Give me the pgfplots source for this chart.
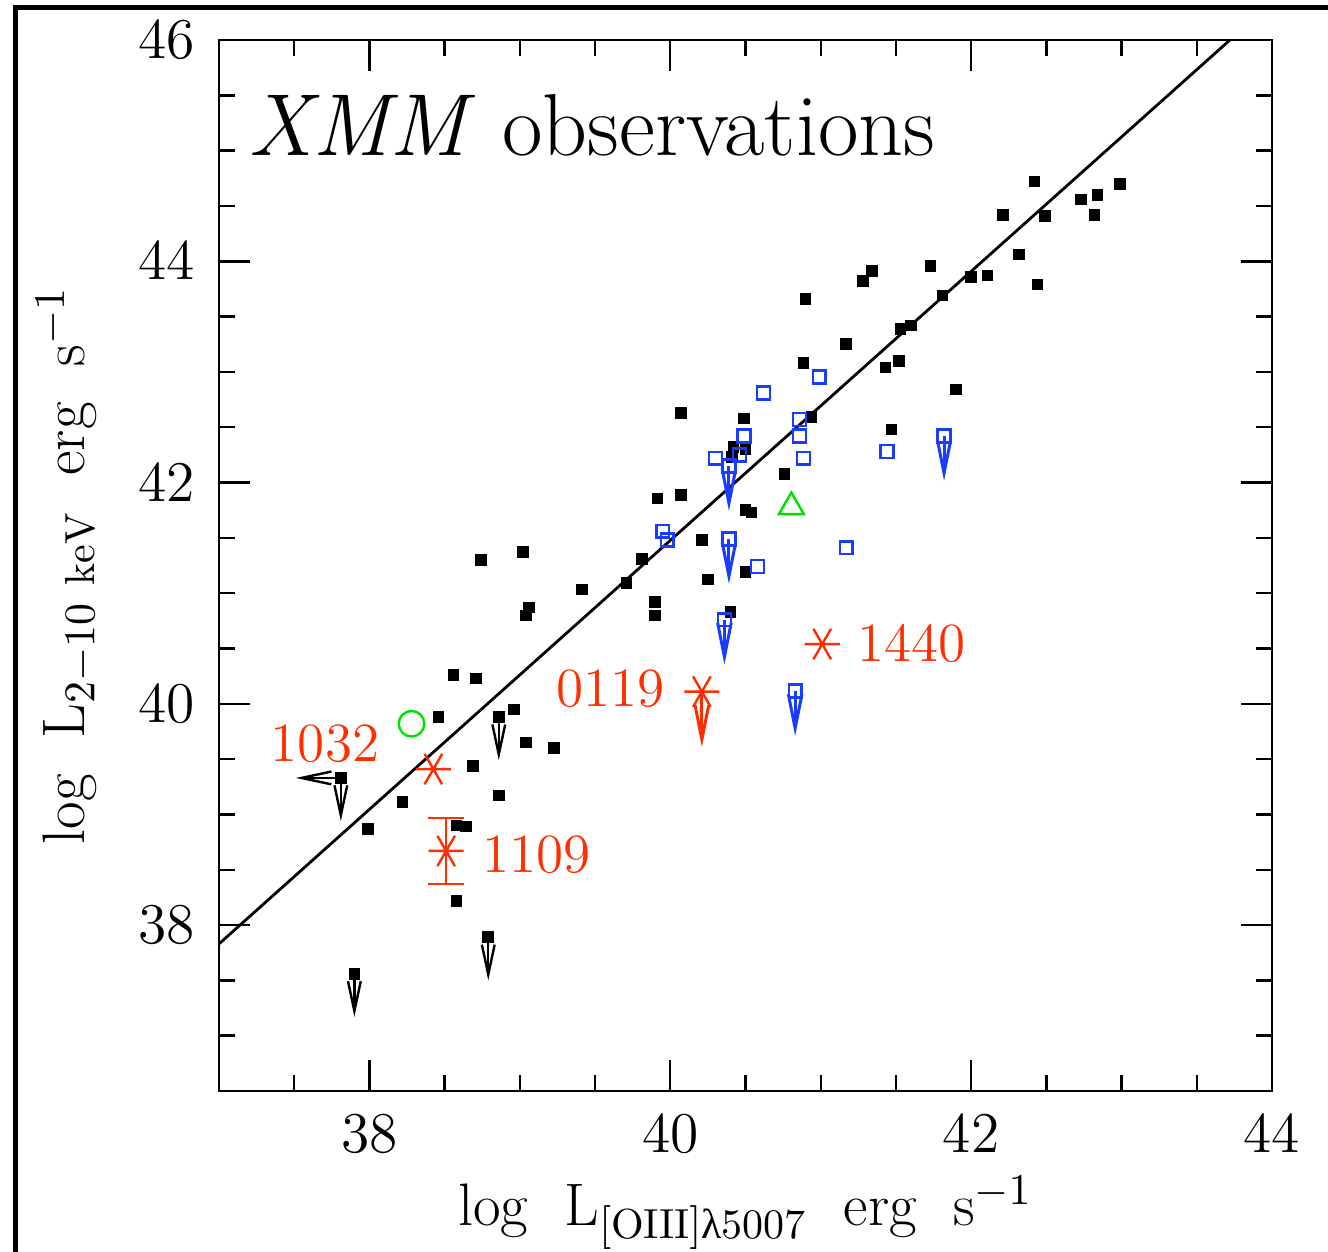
\documentclass[border=0pt]{standalone}
\usepackage{amsmath}
\usepackage{pgfplots}
\pgfplotsset{compat=1.18}
\usepackage{fontspec}
\newfontfamily\grk{Liberation Serif}
\usetikzlibrary{arrows.meta}
\definecolor{myred}{RGB}{255,45,0}
\definecolor{myblue}{RGB}{25,60,255}
\definecolor{mygreen}{RGB}{0,225,0}
\begin{document}
\begin{tikzpicture}
\path[use as bounding box] (0pt,0pt) rectangle (332pt,-313pt);
\draw[line width=1.1pt] (3.875pt,-313pt) -- (3.875pt,-1.875pt) -- (332pt,-1.875pt);
\begin{axis}[
  at={(54.75pt,-272.75pt)}, anchor=south west,
  scale only axis, width=263.25pt, height=262.75pt,
  xmin=37, xmax=44, ymin=36.5, ymax=46,
  xtick={38,40,42,44}, ytick={38,40,42,44,46},
  minor xtick={37,37.5,...,44}, minor ytick={36.5,37,...,46},
  tick align=inside,
  major tick length=7.75pt, minor tick length=3.9pt,
  axis line style={line width=0.6pt},
  every tick/.style={black, line width=0.6pt},
  tick label style={font=\fontsize{13.3}{15}\selectfont},
  yticklabel style={xshift=-2.5pt},
  xticklabel style={yshift=-2.5pt},
  xlabel={log\hspace{9pt}L$_{\mathrm{[OIII]}\text{\grk λ}\mathrm{5007}}$\hspace{9pt}erg\hspace{9pt}s$^{-1}$},
  ylabel={log\hspace{9pt}L$_{2-10\ \mathrm{keV}}$\hspace{9pt}erg\hspace{9pt}s$^{-1}$},
  label style={font=\fontsize{15}{18}\selectfont},
  xlabel style={at={(axis description cs:0.5,-0.1275)}, anchor=base},
  ylabel style={at={(axis description cs:-0.1273,0.5)}, anchor=base},
  clip=true,
]
% regression line
\addplot[black, line width=0.7pt] coordinates {(37,37.83) (43.72,46.0)};
% black detections
\addplot[only marks, mark=square*, mark size=1.25pt, black] coordinates {
(42.42,44.72) (42.99,44.70) (42.73,44.56) (42.84,44.60) (42.82,44.42)
(42.21,44.42) (42.49,44.41) (42.32,44.06) (42.44,43.79) (41.34,43.91)
(41.28,43.82) (41.73,43.96) (42.00,43.86) (42.11,43.87) (41.81,43.69)
(41.17,43.25) (41.53,43.39) (41.60,43.42) (41.43,43.04) (41.52,43.10)
(41.90,42.84) (40.885,43.08) (40.90,43.66) (40.07,42.63) (40.49,42.58)
(40.94,42.59) (41.47,42.48) (40.42,42.32) (40.50,42.30) (40.41,42.23)
(40.76,42.08) (39.915,41.855) (40.07,41.89) (40.50,41.75) (40.54,41.73)
(40.21,41.48) (39.81,41.31) (39.71,41.09) (40.25,41.125) (40.50,41.19)
(39.90,40.92) (39.90,40.80) (40.40,40.83) (38.74,41.30) (39.02,41.37)
(39.06,40.87) (39.04,40.80) (39.415,41.035) (38.56,40.26) (38.71,40.23)
(38.46,39.88) (38.96,39.95) (39.04,39.65) (39.225,39.60) (38.69,39.44)
(38.86,39.17) (38.22,39.11) (37.99,38.87) (38.58,38.90) (38.64,38.89)
(38.58,38.22)
};
% black upper limits
\addplot[only marks, mark=square*, mark size=1.25pt, black] coordinates {
(37.81,39.33) (38.86,39.88) (37.90,37.56) (38.79,37.89)
};
\addplot[black, line width=0.6pt, -{Straight Barb[length=7.5pt,width=3.2pt]}, quiver={u=0,v=-0.39}] coordinates {
(37.81,39.33) (38.86,39.88) (37.90,37.56) (38.79,37.89)
};
\addplot[black, line width=0.6pt, -{Straight Barb[length=7.5pt,width=3.2pt]}, quiver={u=-0.30,v=0}] coordinates {
(37.81,39.33)
};
% blue open squares
\addplot[only marks, mark=square, mark size=1.6pt, myblue, mark options={line width=0.6pt}] coordinates {
(40.99,42.955) (40.62,42.81) (40.86,42.57) (40.86,42.42) (40.49,42.42)
(40.46,42.25) (40.30,42.22) (40.885,42.22) (41.44,42.28) (39.95,41.56)
(39.98,41.48) (40.58,41.24) (41.17,41.41)
};
% blue upper limits
\addplot[only marks, mark=square, mark size=1.6pt, myblue, mark options={line width=0.6pt}] coordinates {
(40.39,42.15) (41.82,42.42) (40.39,41.49) (40.36,40.76) (40.83,40.115)
};
\addplot[myblue, line width=0.75pt, -{Straight Barb[length=8.5pt,width=3.4pt]}, quiver={u=0,v=-0.405}] coordinates {
(40.39,42.15) (41.82,42.42) (40.39,41.49) (40.36,40.76) (40.83,40.115)
};
% green
\addplot[only marks, mark=triangle, mark size=3.6pt, mygreen, mark options={line width=0.6pt}] coordinates {(40.805,41.78)};
\addplot[only marks, mark=o, mark size=3.2pt, mygreen, mark options={line width=0.6pt}] coordinates {(38.28,39.82)};
% red sources
\addplot[only marks, mark=asterisk, mark size=4.4pt, myred, mark options={rotate=90, line width=0.6pt}] coordinates {
(38.425,39.41) (40.21,40.11) (41.01,40.54)
};
\addplot[only marks, mark=asterisk, mark size=4.4pt, myred, mark options={rotate=90, line width=0.6pt},
  error bars/.cd, y dir=both, y explicit, error bar style={line width=0.6pt},
  error mark options={rotate=90, mark size=4.5pt, myred, line width=0.6pt}] coordinates {
(38.51,38.67) +- (0,0.30)
};
\addplot[myred, line width=0.75pt, -{Straight Barb[length=8.5pt,width=3.4pt]}, quiver={u=0,v=-0.5}] coordinates {
(40.21,40.11)
};
% text
\node[anchor=base west, font=\fontsize{22}{26}\selectfont, inner sep=0pt] at (rel axis cs:0.0275,0.8906) {\textit{XMM} observations};
\begin{scope}[every node/.style={font=\fontsize{13.8}{16}\selectfont, text=myred}]
\node at (axis cs:37.705,39.643) {1032};
\node at (axis cs:39.112,38.64) {1109};
\node at (axis cs:39.60,40.14) {0119};
\node at (axis cs:41.606,40.545) {1440};
\end{scope}
\end{axis}
\end{tikzpicture}
\end{document}
